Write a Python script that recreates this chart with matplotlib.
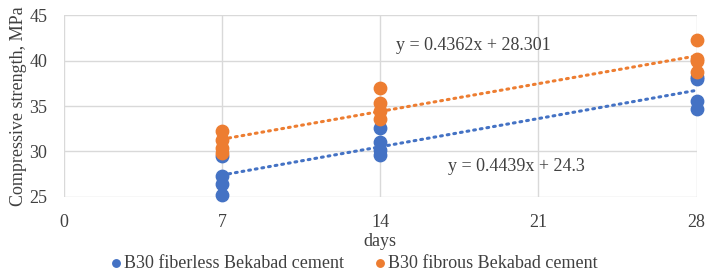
import matplotlib.pyplot as plt

plt.rcParams['font.family'] = ['Liberation Serif', 'DejaVu Serif']

# days and measured strengths (MPa), four samples per day
days_fiberless = [7, 7, 7, 7, 14, 14, 14, 14, 28, 28, 28, 28]
fiberless = [25.2, 26.4, 27.3, 29.5, 29.6, 30.2, 31.0, 32.6, 34.7, 35.6, 38.0, 38.2]
days_fibrous = [7, 7, 7, 7, 14, 14, 14, 14, 28, 28, 28, 28]
fibrous = [29.8, 30.4, 31.3, 32.3, 33.6, 34.5, 35.3, 37.0, 38.7, 40.0, 40.2, 42.3]

# trendline coefficients as printed on the chart
fit_fiberless = (0.4439, 24.3)
fit_fibrous = (0.4362, 28.301)

labels = ['B30 fiberless Bekabad cement', 'B30 fibrous Bekabad cement']
x_ticks = [0, 7, 14, 21, 28]
blue = '#4472C4'
orange = '#ED7D31'
txt = '#404040'
fs = 13

fig = plt.figure(figsize=(7.06, 2.75), dpi=100)
ax = fig.add_axes([0.0907, 0.284, 0.896, 0.661])

ax.scatter(days_fiberless, fiberless, s=80, color=blue, zorder=3, label=labels[0], clip_on=False)
ax.scatter(days_fibrous, fibrous, s=80, color=orange, zorder=3, label=labels[1], clip_on=False)

xs = [7, 28]
ax.plot(xs, [fit_fiberless[0] * x + fit_fiberless[1] for x in xs],
        color=blue, lw=2.2, ls=(0, (0.6, 1.6)), dash_capstyle='round', zorder=4)
ax.plot(xs, [fit_fibrous[0] * x + fit_fibrous[1] for x in xs],
        color=orange, lw=2.2, ls=(0, (0.6, 1.6)), dash_capstyle='round', zorder=4)

ax.text(14.7, 41.7, 'y = 0.4362x + 28.301', fontsize=fs, va='center', color=txt)
ax.text(17.0, 28.3, 'y = 0.4439x + 24.3', fontsize=fs, va='center', color=txt)

ax.set_xlim(0, 28)
ax.set_ylim(25, 45)
ax.set_xticks(x_ticks)
ax.set_yticks([25, 30, 35, 40, 45])
ax.grid(True, color='#D9D9D9', lw=1)
ax.set_axisbelow(True)
for s in ax.spines.values():
    s.set_visible(False)
ax.tick_params(length=0, labelsize=fs, colors=txt)
ax.tick_params(axis='x', pad=12)
ax.tick_params(axis='y', pad=12)
ax.set_xlabel('days', fontsize=fs, color=txt, labelpad=2)
ax.set_ylabel('Compressive strength, MPa', fontsize=fs, color=txt, labelpad=1.5)

fig.legend(loc='lower center', bbox_to_anchor=(0.5, -0.035), ncol=2, frameon=False,
           fontsize=fs, handletextpad=0.05, handlelength=0.8, columnspacing=1.6,
           markerscale=0.6, labelcolor=txt, borderpad=0.2)

fig.savefig('out.png', dpi=100)
